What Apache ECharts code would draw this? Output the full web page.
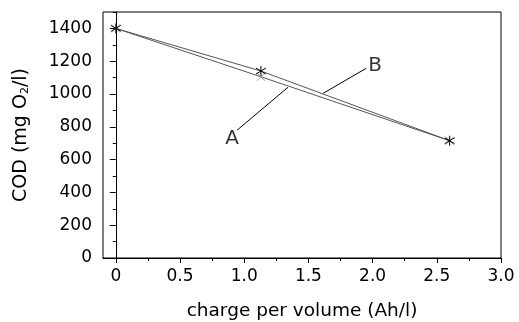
<!DOCTYPE html>
<html><head><meta charset="utf-8">
<script src="https://cdn.jsdelivr.net/npm/echarts@6/dist/echarts.min.js"></script>
<style>html,body{margin:0;padding:0;background:#fff}#c{width:519px;height:322px}</style>
</head><body><div id="c"></div>
<script>
const chargeA = [0, 1.13, 2.6];
const codA = [1400, 1105, 715];
const chargeB = [0, 1.13, 2.6];
const codB = [1400, 1140, 715];
const xTicks = [0, 0.5, 1.0, 1.5, 2.0, 2.5, 3.0];
const xMinorTicks = [0.25, 0.75, 1.25, 1.75, 2.25, 2.75];
const yTicks = [0, 200, 400, 600, 800, 1000, 1200, 1400];
const yMinorTicks = [100, 300, 500, 700, 900, 1100, 1300, 1500];
const leaderA = [[0.944, 779], [1.341, 1041]];
const leaderB = [[1.949, 1156], [1.614, 1004]];
const labelA = [[0.905, 724, 'A']];
const labelB = [[2.02, 1172, 'B']];

const FONT = 'DejaVu Sans';
const asterisk = 'path://M0,-1L0,1M-0.85,-0.6L0.85,0.6M-0.85,0.6L0.85,-0.6';
const cross = 'path://M-1,-1L1,1M-1,1L1,-1';

const chart = echarts.init(document.getElementById('c'), null, {renderer: 'canvas'});
const xCommon = {type: 'value', min: -0.1, max: 3.0, splitLine: {show: false}};
const yCommon = {type: 'value', min: 0, max: 1500, splitLine: {show: false}};
chart.setOption({
  animation: false,
  grid: {left: 103, right: 18, top: 12, bottom: 64, show: true, borderColor: '#000', borderWidth: 1,
    containLabel: false, outerBoundsMode: 'none'},
  xAxis: [
    Object.assign({}, xCommon, {
      position: 'bottom',
      name: 'charge per volume (Ah/l)', nameLocation: 'middle', nameGap: 44,
      nameTextStyle: {fontFamily: FONT, fontSize: 18.5, color: '#000'},
      axisLine: {show: true, lineStyle: {color: '#000', width: 1}},
      axisTick: {show: true, length: 5, customValues: xTicks, lineStyle: {color: '#000'}},
      axisLabel: {show: true, customValues: xTicks, margin: 10, fontFamily: FONT, fontSize: 17, color: '#000',
        formatter: v => v === 0 ? '0' : v.toFixed(1)}
    }),
    Object.assign({}, xCommon, {
      position: 'bottom',
      axisLine: {show: false},
      axisTick: {show: true, length: 3, customValues: xMinorTicks, lineStyle: {color: '#000'}},
      axisLabel: {show: false}
    })
  ],
  yAxis: [
    Object.assign({}, yCommon, {
      position: 'left',
      name: '{a|COD (mg O}{s|2}{a|/l)}', nameLocation: 'middle', nameGap: 72,
      nameTextStyle: {fontFamily: FONT, fontSize: 19, color: '#000',
        rich: {a: {fontFamily: FONT, fontSize: 19, color: '#000'},
               s: {fontFamily: FONT, fontSize: 11, color: '#000', verticalAlign: 'bottom', padding: [7, 0, 0, 0]}}},
      axisLine: {show: true, lineStyle: {color: '#000', width: 1}},
      axisTick: {show: true, length: 6, customValues: yTicks, lineStyle: {color: '#000'}},
      axisLabel: {show: true, customValues: yTicks, margin: 11, fontFamily: FONT, fontSize: 17, color: '#000',
        formatter: v => String(v)}
    }),
    Object.assign({}, yCommon, {
      position: 'left',
      axisLine: {show: false},
      axisTick: {show: true, length: 3, customValues: yMinorTicks, lineStyle: {color: '#000'}},
      axisLabel: {show: false}
    })
  ],
  series: [
    {type: 'line', name: 'A', data: chargeA.map((x, i) => [x, codA[i]]),
      lineStyle: {color: '#555', width: 1}, symbol: cross, symbolSize: 8, showAllSymbol: true,
      itemStyle: {color: '#999', borderColor: '#999', borderWidth: 1}, z: 3},
    {type: 'line', name: 'B', data: chargeB.map((x, i) => [x, codB[i]]),
      lineStyle: {color: '#555', width: 1}, symbol: asterisk, symbolSize: 10, showAllSymbol: true,
      itemStyle: {color: '#000', borderColor: '#000', borderWidth: 1}, z: 4},
    {type: 'line', data: leaderA, symbol: 'none', lineStyle: {color: '#000', width: 1}},
    {type: 'line', data: leaderB, symbol: 'none', lineStyle: {color: '#000', width: 1}},
    {type: 'scatter', data: labelA.concat(labelB), symbolSize: 0,
      label: {show: true, position: 'inside', formatter: p => p.data[2], fontFamily: FONT, fontSize: 20, color: '#000'}}
  ]
});
</script></body></html>
